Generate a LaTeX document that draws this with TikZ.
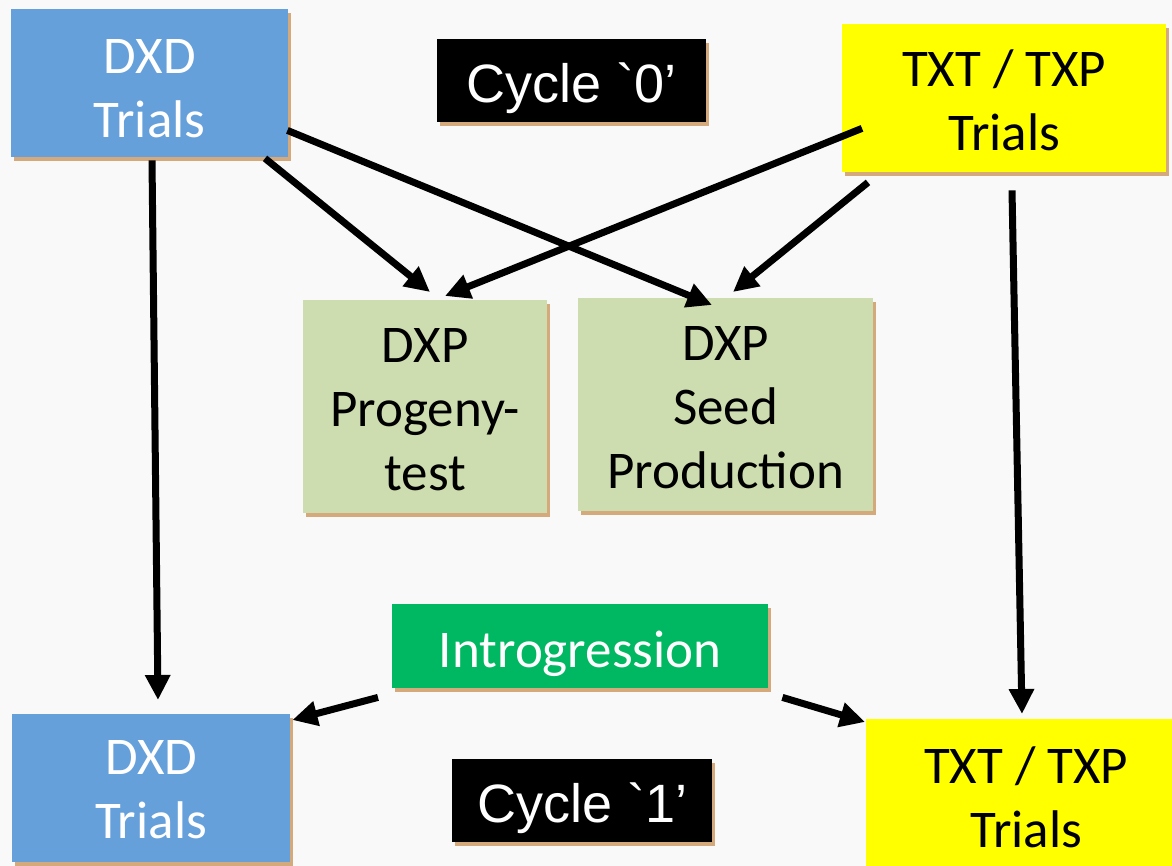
\documentclass[tikz,border=0pt]{standalone}
\usepackage{fontspec}
\setmainfont{Carlito}
\newfontfamily\arialf{Liberation Sans}
\usetikzlibrary{arrows.meta,shadows,positioning,calc}
\definecolor{bgc}{RGB}{249,249,249}
\definecolor{dxdblue}{RGB}{101,160,219}
\definecolor{txtyellow}{RGB}{255,255,0}
\definecolor{dxpgreen}{RGB}{206,221,175}
\definecolor{introgreen}{RGB}{0,184,98}
\definecolor{shadowtan}{RGB}{212,170,125}
% last line's baseline placed #1 below the box centre
\newcommand{\boxtext}[2]{\raisebox{-#1}[0pt][0pt]{\begin{tabular}[b]{@{}c@{}}#2\end{tabular}}}
\tikzset{
  box/.style={rectangle, anchor=north west, inner sep=0pt,
    font=\fontsize{53}{64}\selectfont,
    drop shadow={shadow xshift=3pt, shadow yshift=-4pt, fill=shadowtan, opacity=1}},
  bluebox/.style={box, fill=dxdblue, text=white},
  yellowbox/.style={box, fill=txtyellow, text=black},
  greenbox/.style={box, fill=dxpgreen, text=black},
  introbox/.style={box, fill=introgreen, text=white},
  cyclebox/.style={box, fill=black, text=white, font=\arialf\fontsize{54}{64}\selectfont},
  arr/.style={line width=7pt, -{Triangle[length=25pt,width=24pt]}}
}
\begin{document}
\begin{tikzpicture}[x=1pt,y=-1pt]
\fill[bgc] (0,0) rectangle (1172,866);
\useasboundingbox (0,0) rectangle (1172,866);
\clip (0,0) rectangle (1172,866);

\node[bluebox, minimum width=277pt, minimum height=148pt] (dxdA) at (11,9) {\boxtext{54pt}{DXD\\Trials}};
\node[cyclebox, minimum width=269pt, minimum height=83pt] (cyc0) at (437,39) {\boxtext{21.5pt}{Cycle \symbol{"60}0’}};
\node[yellowbox, minimum width=324pt, minimum height=148pt] (txtA) at (842,24) {\boxtext{52pt}{TXT / TXP\\Trials}};
\node[greenbox, minimum width=244pt, minimum height=213pt] (prog) at (303,300) {\boxtext{83.5pt}{DXP\\Progeny-\\test}};
\node[greenbox, minimum width=295pt, minimum height=213pt] (seed) at (578,298) {\boxtext{83.5pt}{DXP\\Seed\\Production}};
\node[introbox, minimum width=376pt, minimum height=84pt] (intro) at (392,604) {\boxtext{21pt}{Introgression}};
\node[bluebox, minimum width=278pt, minimum height=148pt] (dxdB) at (12,714) {\boxtext{50pt}{DXD\\Trials}};
\node[cyclebox, minimum width=260pt, minimum height=83pt] (cyc1) at (452,759) {\boxtext{21.5pt}{Cycle \symbol{"60}1’}};
\node[yellowbox, minimum width=320pt, minimum height=160pt] (txtB) at (866,719) {\boxtext{48pt}{TXT / TXP\\Trials}};

% arrows
\draw[arr] ([shift={(141,3)}]dxdA.south west) -- ([shift={(146,-14)}]dxdB.north west);
\draw[arr] ([shift={(254,1)}]dxdA.south west) -- ([shift={(127,-8)}]prog.north west);
\draw[arr] ([shift={(-1,-27)}]dxdA.south east) -- ([shift={(134,7)}]seed.north west);
\draw[arr] ([shift={(20,-44)}]txtA.south west) -- ([shift={(142,-4)}]prog.north west);
\draw[arr] ([shift={(26,10)}]txtA.south west) -- ([shift={(155,-6)}]seed.north west);
\draw[arr] ([shift={(170,18)}]txtA.south west) -- ([shift={(156,-5)}]txtB.north west);
\draw[arr] ([shift={(-14,9)}]intro.south west) -- ([shift={(2,6)}]dxdB.north east);
\draw[arr] ([shift={(14,9)}]intro.south east) -- ([shift={(-1,3)}]txtB.north west);
\end{tikzpicture}
\end{document}
